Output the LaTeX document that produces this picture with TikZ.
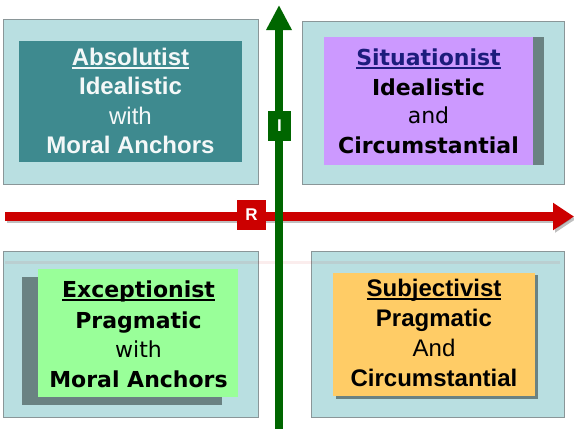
\documentclass[tikz,border=0pt]{standalone}
\usepackage{fontspec}
\setmainfont{Liberation Sans}
\newfontfamily\dvfont{DejaVu Sans}
\usetikzlibrary{arrows.meta}
\definecolor{outerfill}{HTML}{B9DFE1}
\definecolor{outerdraw}{HTML}{8A9698}
\definecolor{tealbox}{HTML}{3E8A8F}
\definecolor{purplebox}{HTML}{CC99FF}
\definecolor{greenbox}{HTML}{99FF99}
\definecolor{orangebox}{HTML}{FFCC66}
\definecolor{shadowgray}{HTML}{6A8282}
\definecolor{axisgreen}{HTML}{006600}
\definecolor{axisred}{HTML}{CC0000}
\definecolor{navytext}{HTML}{1C1C7C}
\definecolor{offwhite}{HTML}{F4F8F8}
\newcommand{\ulx}[1]{\setbox0=\hbox{#1}\rlap{\rule[-3.8pt]{\wd0}{1.8pt}}\box0}
\tikzset{
  outerbox/.style={draw=outerdraw, fill=outerfill, line width=0.9pt},
  shadowbox/.style={fill=shadowgray},
  txt/.style={anchor=base, inner sep=0pt, outer sep=0pt},
  arialbig/.style={txt, font=\fontsize{24}{28}\selectfont},
  dvbig/.style={txt, font=\dvfont\fontsize{22}{26}\selectfont},
  greenaxis/.style={draw=axisgreen, line width=8pt, -{Triangle[width=24pt,length=25pt]}},
  redaxis/.style={draw=axisred, line width=8.5pt, -{Triangle[width=26pt,length=21pt]}},
  redshadow/.style={draw=black, opacity=0.25, line width=8.5pt, -{Triangle[width=26pt,length=21pt]}},
  axislabel/.style={inner sep=0pt, text=white, font=\bfseries\fontsize{17}{17}\selectfont},
}
\begin{document}
\begin{tikzpicture}[x=1pt,y=-1pt]
\useasboundingbox (0,0) rectangle (574,429);
\fill[white] (0,0) rectangle (574,429);

% outer quadrant boxes
\path[outerbox] (3,19) rectangle (258,184);
\path[outerbox] (302,21) rectangle (564,184);
\path[outerbox] (3,251) rectangle (258,417);
\path[outerbox] (311,251) rectangle (564,417);

% faint reflection of the horizontal axis
\draw[axisred, opacity=0.07, line width=3pt] (5,262) -- (560,262);

% inner boxes with shadows
\fill[tealbox] (19,40.7) rectangle (242,161.7);

\fill[shadowbox] (335,37) rectangle (544,165);
\fill[purplebox] (324,37) rectangle (533,165);

\fill[shadowbox] (22,277) rectangle (222,405);
\fill[greenbox] (38,269) rectangle (238,397);

\fill[shadowbox] (335.5,275.2) rectangle (537.5,398.5);
\fill[orangebox] (333,272.7) rectangle (535,396);

% Absolutist
\begin{scope}[every node/.append style={text=offwhite}]
\node[arialbig] (abs1) at (130.5,65) {\bfseries\ulx{Absolutist}};
\node[arialbig] (abs2) at (130.5,94.3) {\bfseries Idealistic};
\node[arialbig] (abs3) at (130.5,124.3) {with};
\node[arialbig] (abs4) at (130.5,153.3) {\bfseries Moral Anchors};
\end{scope}

% Situationist
\node[dvbig, text=navytext] (sit1) at (428.5,65) {\bfseries\ulx{Situationist}};
\node[dvbig] (sit2) at (428.5,95) {\bfseries Idealistic};
\node[dvbig] (sit3) at (428.5,123.5) {and};
\node[dvbig] (sit4) at (428.5,153) {\bfseries Circumstantial};

% Exceptionist
\node[dvbig] (exc1) at (138.5,297) {\bfseries\ulx{Exceptionist}};
\node[dvbig] (exc2) at (138.5,328) {\bfseries Pragmatic};
\node[dvbig] (exc3) at (138.5,357) {with};
\node[dvbig] (exc4) at (138.5,387) {\bfseries Moral Anchors};

% Subjectivist
\node[arialbig] (sub1) at (434,296) {\bfseries\ulx{Subjectivist}};
\node[arialbig] (sub2) at (434,326.7) {\bfseries Pragmatic};
\node[arialbig] (sub3) at (434,356.7) {And};
\node[arialbig] (sub4) at (434,386) {\bfseries Circumstantial};

% axes
\coordinate (rstart) at (5,216.5);
\coordinate (rend) at (574,216.5);
\coordinate (rstartS) at (7,219);
\coordinate (rendS) at (576,219);
\coordinate (gstart) at (279,429);
\coordinate (gend) at (279,5);

\draw[redshadow] (rstartS) -- (rendS);
\draw[redaxis] (rstart) -- (rend);
\draw[greenaxis] (gstart) -- (gend);

\node[axislabel, fill=axisred, minimum width=29pt, minimum height=30pt] (rlab) at (251.5,215) {R};
\node[axislabel, fill=axisgreen, minimum width=23pt, minimum height=30pt] (ilab) at (279.5,126) {I};
\end{tikzpicture}
\end{document}
